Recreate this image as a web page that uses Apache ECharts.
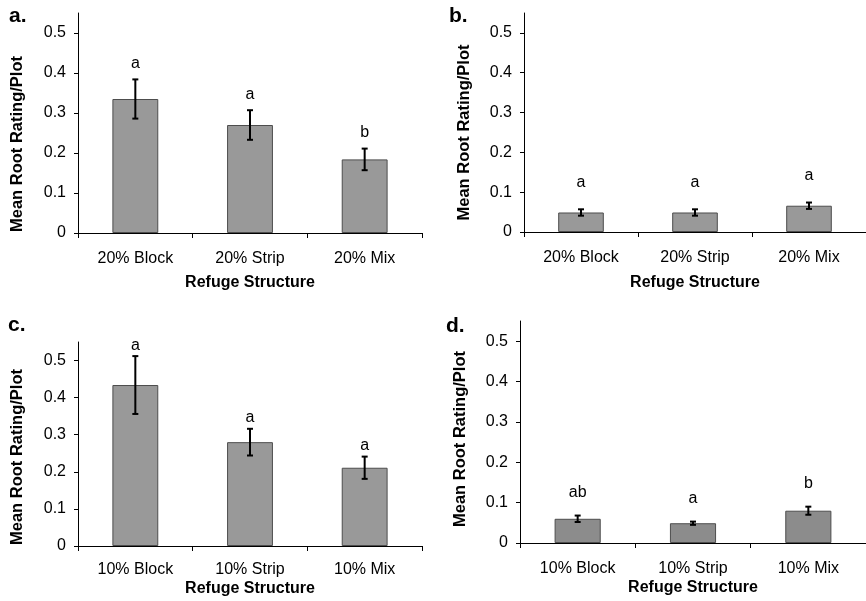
<!DOCTYPE html>
<html>
<head>
<meta charset="utf-8">
<script src="https://cdn.jsdelivr.net/npm/echarts@6/dist/echarts.min.js"></script>
<style>
  html, body { margin: 0; padding: 0; background: #fff; }
  #chart { width: 866px; height: 601px; }
</style>
</head>
<body>
<div id="chart"></div>
<script>
// categories
const cats20 = ['20% Block', '20% Strip', '20% Mix']
const cats10 = ['10% Block', '10% Strip', '10% Mix']
const yTicks = [0, 0.1, 0.2, 0.3, 0.4, 0.5]

// panel a (20% refuge)
const meanA = [0.335, 0.270, 0.184]
const errA = [0.049, 0.037, 0.027]
const letA = ['a', 'a', 'b']

// panel b (20% refuge)
const meanB = [0.049, 0.049, 0.066]
const errB = [0.008, 0.008, 0.008]
const letB = ['a', 'a', 'a']

// panel c (10% refuge)
const meanC = [0.434, 0.280, 0.211]
const errC = [0.078, 0.036, 0.030]
const letC = ['a', 'a', 'a']

// panel d (10% refuge)
const meanD = [0.060, 0.049, 0.080]
const errD = [0.008, 0.004, 0.010]
const letD = ['ab', 'a', 'b']

const FONT = "'Liberation Sans', Arial, sans-serif"

const panels = [
  { tag: 'a.', cats: cats20, mean: meanA, err: errA, letters: letA, fill: '#999999', gap: 8,
    grid: { left: 78, right: 444, top: 13, bottom: 368 }, tagPos: { left: 9, top: 6 },
    labelMargin: 18, nameGap: 42, yNameGap: 52, yNameShift: 21 },
  { tag: 'b.', cats: cats20, mean: meanB, err: errB, letters: letB, fill: '#999999', gap: 19,
    grid: { left: 524, right: -5, top: 13, bottom: 369 }, tagPos: { left: 449, top: 6 },
    labelMargin: 18, nameGap: 43, yNameGap: 51, yNameShift: 10 },
  { tag: 'c.', cats: cats10, mean: meanC, err: errC, letters: letC, fill: '#999999', gap: 3,
    grid: { left: 78, right: 444, top: 342, bottom: 55 }, tagPos: { left: 8, top: 315 },
    labelMargin: 16, nameGap: 35, yNameGap: 52, yNameShift: 13 },
  { tag: 'd.', cats: cats10, mean: meanD, err: errD, letters: letD, fill: '#8c8c8c', gap: 15,
    grid: { left: 520, right: -6, top: 321, bottom: 58 }, tagPos: { left: 446, top: 316 },
    labelMargin: 18, nameGap: 37, yNameGap: 51, yNameShift: 7 }
]

const makeErrSeries = (p, i) => ({
  type: 'custom',
  xAxisIndex: i,
  yAxisIndex: i,
  z: 5,
  data: p.mean.map((m, k) => [k, m - p.err[k], m + p.err[k]]),
  renderItem: function (params, api) {
    const lo = api.coord([api.value(0), api.value(1)])
    const hi = api.coord([api.value(0), api.value(2)])
    const cap = 3
    return {
      type: 'group',
      children: [
        { type: 'line', shape: { x1: lo[0], y1: lo[1], x2: hi[0], y2: hi[1] }, style: { stroke: '#000', lineWidth: 2 } },
        { type: 'line', shape: { x1: lo[0] - cap, y1: lo[1], x2: lo[0] + cap, y2: lo[1] }, style: { stroke: '#000', lineWidth: 2 } },
        { type: 'line', shape: { x1: hi[0] - cap, y1: hi[1], x2: hi[0] + cap, y2: hi[1] }, style: { stroke: '#000', lineWidth: 2 } },
        {
          type: 'text',
          x: hi[0],
          y: hi[1] - p.gap,
          style: {
            text: p.letters[params.dataIndex],
            align: 'center',
            verticalAlign: 'bottom',
            fill: '#000',
            font: '16px ' + FONT
          }
        }
      ]
    }
  }
})

const chart = echarts.init(document.getElementById('chart'), null, { renderer: 'canvas' })

const option = {
  animation: false,
  backgroundColor: '#fff',
  textStyle: { fontFamily: FONT },
  title: panels.map(p => ({
    text: p.tag,
    left: p.tagPos.left,
    top: p.tagPos.top,
    padding: 0,
    textStyle: { fontSize: 21, fontWeight: 'bold', color: '#000', fontFamily: FONT }
  })),
  grid: panels.map(p => p.grid),
  xAxis: panels.map((p, i) => ({
    type: 'category',
    gridIndex: i,
    data: p.cats,
    name: 'Refuge Structure',
    nameLocation: 'middle',
    nameGap: p.nameGap,
    nameTextStyle: { fontSize: 16, fontWeight: 'bold', color: '#000', fontFamily: FONT },
    axisLine: { lineStyle: { color: '#000', width: 1 } },
    axisTick: { show: true, length: 5, inside: false, alignWithLabel: false, lineStyle: { color: '#000' } },
    axisLabel: { color: '#000', fontSize: 16, margin: p.labelMargin, fontFamily: FONT },
    splitLine: { show: false }
  })),
  yAxis: panels.map((p, i) => ({
    type: 'value',
    gridIndex: i,
    min: 0,
    max: 0.55,
    interval: 0.1,
    name: 'Mean Root Rating/Plot',
    nameLocation: 'middle',
    nameGap: p.yNameGap,
    nameTextStyle: {
      fontSize: 16.5,
      fontWeight: 'bold',
      color: '#000',
      fontFamily: FONT,
      // push the rotated title down a little, as in the original
      padding: [0, p.yNameShift * 2, 0, 0]
    },
    axisLine: { show: true, lineStyle: { color: '#000', width: 1 } },
    axisTick: { show: true, length: 4, customValues: yTicks, lineStyle: { color: '#000' } },
    axisLabel: {
      color: '#000',
      fontSize: 16,
      margin: 12,
      fontFamily: FONT,
      customValues: yTicks,
      formatter: v => (v === 0 ? '0' : v.toFixed(1))
    },
    splitLine: { show: false }
  })),
  series: panels.flatMap((p, i) => [
    {
      type: 'bar',
      xAxisIndex: i,
      yAxisIndex: i,
      barWidth: '40%',
      data: p.mean,
      itemStyle: { color: p.fill, borderColor: '#4d4d4d', borderWidth: 1 },
      emphasis: { disabled: true }
    },
    makeErrSeries(p, i)
  ])
}

chart.setOption(option)
</script>
</body>
</html>
